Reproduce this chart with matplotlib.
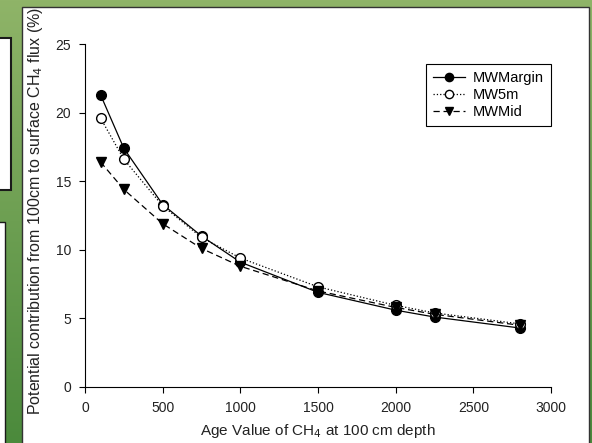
import matplotlib
matplotlib.use("Agg")
import matplotlib.pyplot as plt
from matplotlib.patches import Rectangle
import numpy as np

plt.rcParams['font.family'] = ['Liberation Sans', 'DejaVu Sans']

age = [100, 250, 500, 750, 1000, 1500, 2000, 2250, 2800]
mw_margin = [21.3, 17.4, 13.3, 11.0, 9.1, 6.9, 5.6, 5.1, 4.3]
mw_5m = [19.6, 16.6, 13.2, 10.9, 9.4, 7.3, 5.95, 5.4, 4.6]
mw_mid = [16.4, 14.4, 11.9, 10.1, 8.8, 7.0, 5.8, 5.3, 4.5]

xticks = [0, 500, 1000, 1500, 2000, 2500, 3000]
yticks = [0, 5, 10, 15, 20, 25]

fig = plt.figure(figsize=(5.92, 4.43), dpi=100)

# green screenshot background with a gradient
grad = np.linspace(0, 1, 256).reshape(-1, 1)
bg = fig.add_axes([0, 0, 1, 1], zorder=-10)
bg.imshow(grad, aspect='auto', cmap=matplotlib.colors.LinearSegmentedColormap.from_list(
    'g', ['#8fb468', '#4b8a3c']), extent=[0, 1, 0, 1], origin='upper')
bg.set_xlim(0, 1)
bg.set_ylim(0, 1)
bg.axis('off')
W, H = 592, 443


def box(x0, y0, x1, y1, fc='white', ec='#222222', lw=1.0):
    bg.add_patch(Rectangle((x0 / W, 1 - y1 / H), (x1 - x0) / W, (y1 - y0) / H,
                           facecolor=fc, edgecolor=ec, lw=lw))


box(-5, 38, 11, 190, ec='#1a1a1a', lw=1.5)
box(-5, 222, 5, 450, ec='#1a1a1a', lw=1.0)
box(22, 7, 589, 450, ec='#333333', lw=1.0)

ax = fig.add_axes([85 / W, 1 - 387 / H, (551 - 85) / W, (387 - 44) / H])
ax.plot(age, mw_margin, color='black', lw=0.9, ls='-', marker='o', ms=7,
        mfc='black', mec='black', label='MWMargin')
ax.plot(age, mw_5m, color='black', lw=0.9, ls=':', marker='o', ms=7,
        mfc='white', mec='black', label='MW5m')
ax.plot(age, mw_mid, color='black', lw=0.9, ls=(0, (5, 3)), marker='v', ms=7,
        mfc='black', mec='black', label='MWMid')

ax.set_xlim(0, 3000)
ax.set_ylim(0, 25)
ax.set_xticks(xticks)
ax.set_yticks(yticks)
for s in ['top', 'right']:
    ax.spines[s].set_visible(False)
for s in ['left', 'bottom']:
    ax.spines[s].set_linewidth(0.8)
ax.tick_params(direction='out', length=4, width=0.8, labelsize=10, pad=6,
               labelcolor='#222222')

ax.set_xlabel('Age Value of CH$_4$ at 100 cm depth', fontsize=11, labelpad=5,
              color='#222222')
fig.text(36 / W, 1 - 211 / H, 'Potential contribution from 100cm to surface CH$_4$ flux (%)',
         rotation=90, fontsize=11.5, ha='center', va='center', color='#222222')

leg = ax.legend(loc='upper right', bbox_to_anchor=(1.0, 0.943), fontsize=10.5,
                frameon=True, fancybox=False, edgecolor='black', framealpha=1,
                handlelength=2.2, borderpad=0.5, labelspacing=0.2, handletextpad=0.5,
                borderaxespad=0, markerscale=0.85)
leg.get_frame().set_linewidth(0.8)

fig.savefig('out.png', dpi=100)
